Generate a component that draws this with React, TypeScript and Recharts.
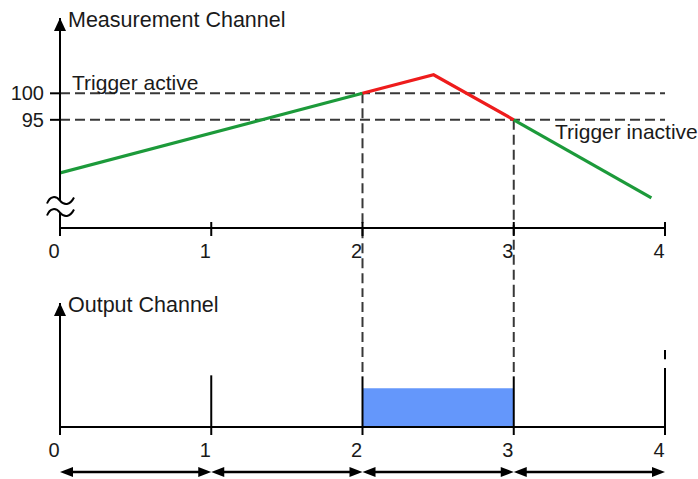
import { ComposedChart, Line, XAxis, YAxis, ReferenceLine, ReferenceArea, ReferenceDot } from 'recharts';

// shared time axis
const xTicks = [0, 1, 2, 3, 4];

// measurement channel
const risingX = [0, 2];
const risingY = [85, 100];
const triggeredX = [2, 2.47, 3];
const triggeredY = [100, 103.5, 95];
const fallingX = [3, 3.91];
const fallingY = [95, 80.3];
const activeLevel = 100;
const inactiveLevel = 95;
const measDomain = [74.6, 114.2];
const breakLevel = 78.65;

// output channel
const outDomain = [0, 2.4];
const pulseX = [1, 2, 3, 4];
const pulseH = [1, 0.98, 0.98, 1.14];
const windowX = [2, 3];
const windowLevel = 0.75;
const intervalStarts = [0, 1, 2, 3];
const intervalEnds = [1, 2, 3, 4];
const arrowLevel = -0.87;

const INK = '#1a1a1a';
const DASH = '#383838';
const GREEN = '#1c9a3a';
const RED = '#ee1c1c';
const BLUE = '#6497fb';
const DASHES = '10 5';

const toPoints = (xs: number[], ys: number[]) => xs.map((x, i) => ({ x, y: ys[i] }));

const XTick = (p: any) => {
  const { x, y, payload, rise } = p;
  return (
    <g>
      {rise ? <line x1={x} x2={x} y1={y - 16} y2={y - 10} stroke="#000" strokeWidth={2} /> : null}
      <text x={x - 6} y={y + 20} textAnchor="middle" fontSize={20} fill={INK}>
        {payload.value}
      </text>
    </g>
  );
};

const AxisArrow = (p: any) => {
  const { cx, cy } = p;
  return <path d={`M${cx},${cy} L${cx - 6},${cy + 13} L${cx + 6},${cy + 13} Z`} fill="#000" />;
};

const AxisBreak = (p: any) => {
  const { cx, cy } = p;
  const wave = (y0: number) =>
    `M${cx - 13},${y0 + 3} C${cx - 10},${y0 - 5} ${cx - 4},${y0 - 5} ${cx},${y0} S${cx + 10},${y0 + 5} ${cx + 14},${y0 - 3}`;
  return (
    <g>
      <rect x={cx - 3} y={cy - 6} width={6} height={12} fill="#fff" />
      <path d={wave(cy - 6)} fill="none" stroke="#000" strokeWidth={2} />
      <path d={wave(cy + 6)} fill="none" stroke="#000" strokeWidth={2} />
    </g>
  );
};

const DoubleArrow = (p: any) => {
  const { x1, y1, x2, y2 } = p;
  const L = 13;
  const H = 5;
  return (
    <g>
      <line x1={x1 + L - 1} y1={y1} x2={x2 - L + 1} y2={y2} stroke="#000" strokeWidth={2.5} />
      <path d={`M${x1},${y1} L${x1 + L},${y1 - H} L${x1 + L},${y1 + H} Z`} fill="#000" />
      <path d={`M${x2},${y2} L${x2 - L},${y2 - H} L${x2 - L},${y2 + H} Z`} fill="#000" />
    </g>
  );
};

const axisTitle = (text: string) => (p: any) => {
  const vb = p.viewBox;
  return (
    <text x={vb.x + vb.width + 8} y={vb.y + 9} fontSize={21.5} fill={INK}>
      {text}
    </text>
  );
};

function MeasurementChart() {
  return (
    <ComposedChart width={698} height={290} margin={{ top: 18, right: 33, bottom: 32, left: 10 }}>
      <XAxis
        dataKey="x"
        type="number"
        domain={[0, 4]}
        ticks={xTicks}
        allowDataOverflow
        interval={0}
        height={30}
        axisLine={{ stroke: '#000', strokeWidth: 2 }}
        tickLine={{ stroke: '#000', strokeWidth: 2 }}
        tickSize={8}
        tick={(p: any) => <XTick {...p} rise />}
      />
      <YAxis
        type="number"
        domain={measDomain}
        ticks={[inactiveLevel, activeLevel]}
        interval={0}
        allowDataOverflow
        width={50}
        axisLine={{ stroke: '#000', strokeWidth: 2 }}
        tickLine={{ stroke: '#000', strokeWidth: 2 }}
        tickSize={10}
        tickMargin={6}
        tick={{ fontSize: 20, fill: INK }}
        label={axisTitle('Measurement Channel')}
      />
      <ReferenceLine
        y={activeLevel}
        stroke={DASH}
        strokeWidth={2}
        strokeDasharray={DASHES}
        label={(p: any) => (
          <text x={p.viewBox.x + 12} y={p.viewBox.y - 3.5} fontSize={21} fill={INK}>
            Trigger active
          </text>
        )}
      />
      <ReferenceLine
        y={inactiveLevel}
        stroke={DASH}
        strokeWidth={2}
        strokeDasharray={DASHES}
        label={(p: any) => (
          <text x={p.viewBox.x + p.viewBox.width - 110} y={p.viewBox.y + 19} fontSize={21} fill={INK}>
            Trigger inactive
          </text>
        )}
      />
      <ReferenceLine
        segment={[{ x: 2, y: activeLevel }, { x: 2, y: 60 }]}
        ifOverflow="visible"
        stroke={DASH}
        strokeWidth={2}
        strokeDasharray={DASHES}
      />
      <ReferenceLine
        segment={[{ x: 3, y: inactiveLevel }, { x: 3, y: 60 }]}
        ifOverflow="visible"
        stroke={DASH}
        strokeWidth={2}
        strokeDasharray={DASHES}
      />
      <Line data={toPoints(risingX, risingY)} dataKey="y" stroke={GREEN} strokeWidth={3.2} dot={false} activeDot={false} isAnimationActive={false} />
      <Line data={toPoints(triggeredX, triggeredY)} dataKey="y" stroke={RED} strokeWidth={3.2} dot={false} activeDot={false} isAnimationActive={false} />
      <Line data={toPoints(fallingX, fallingY)} dataKey="y" stroke={GREEN} strokeWidth={3.2} dot={false} activeDot={false} isAnimationActive={false} />
      <ReferenceDot x={0} y={measDomain[1]} r={6} ifOverflow="visible" shape={AxisArrow} />
      <ReferenceDot x={0} y={breakLevel} r={6} ifOverflow="visible" shape={AxisBreak} />
    </ComposedChart>
  );
}

function OutputChart() {
  return (
    <ComposedChart width={698} height={189} margin={{ top: 13, right: 33, bottom: 22, left: 10 }}>
      <XAxis
        dataKey="x"
        type="number"
        domain={[0, 4]}
        ticks={xTicks}
        allowDataOverflow
        interval={0}
        height={30}
        axisLine={{ stroke: '#000', strokeWidth: 2 }}
        tickLine={{ stroke: '#000', strokeWidth: 2 }}
        tickSize={8}
        tick={(p: any) => <XTick {...p} />}
      />
      <YAxis
        type="number"
        domain={outDomain}
        allowDataOverflow
        width={50}
        axisLine={{ stroke: '#000', strokeWidth: 2 }}
        tick={false}
        tickLine={false}
        label={axisTitle('Output Channel')}
      />
      <ReferenceArea x1={windowX[0]} x2={windowX[1]} y1={0} y2={windowLevel} fill={BLUE} fillOpacity={1} stroke="none" />
      {windowX.map((x) => (
        <ReferenceLine
          key={`d${x}`}
          segment={[{ x, y: 3 }, { x, y: pulseH[pulseX.indexOf(x)] }]}
          ifOverflow="visible"
          stroke={DASH}
          strokeWidth={2}
          strokeDasharray={DASHES}
        />
      ))}
      {pulseX.map((x, i) => (
        <ReferenceLine key={`p${x}`} segment={[{ x, y: 0 }, { x, y: pulseH[i] }]} ifOverflow="visible" stroke="#000" strokeWidth={2} />
      ))}
      <ReferenceLine segment={[{ x: 4, y: 1.31 }, { x: 4, y: 1.49 }]} ifOverflow="visible" stroke="#000" strokeWidth={2} />
      {intervalStarts.map((s, i) => (
        <ReferenceLine
          key={`a${s}`}
          segment={[{ x: s, y: arrowLevel }, { x: intervalEnds[i], y: arrowLevel }]}
          ifOverflow="visible"
          shape={DoubleArrow}
        />
      ))}
      <ReferenceDot x={0} y={outDomain[1]} r={6} ifOverflow="visible" shape={AxisArrow} />
    </ComposedChart>
  );
}

export default function App() {
  return (
    <div
      style={{
        position: 'absolute',
        left: 0,
        top: 0,
        width: 698,
        height: 479,
        background: '#fff',
        fontFamily: '"Liberation Sans", Arial, sans-serif',
      }}
    >
      <div style={{ position: 'absolute', left: 0, top: 0 }}>
        <MeasurementChart />
      </div>
      <div style={{ position: 'absolute', left: 0, top: 290 }}>
        <OutputChart />
      </div>
    </div>
  );
}
